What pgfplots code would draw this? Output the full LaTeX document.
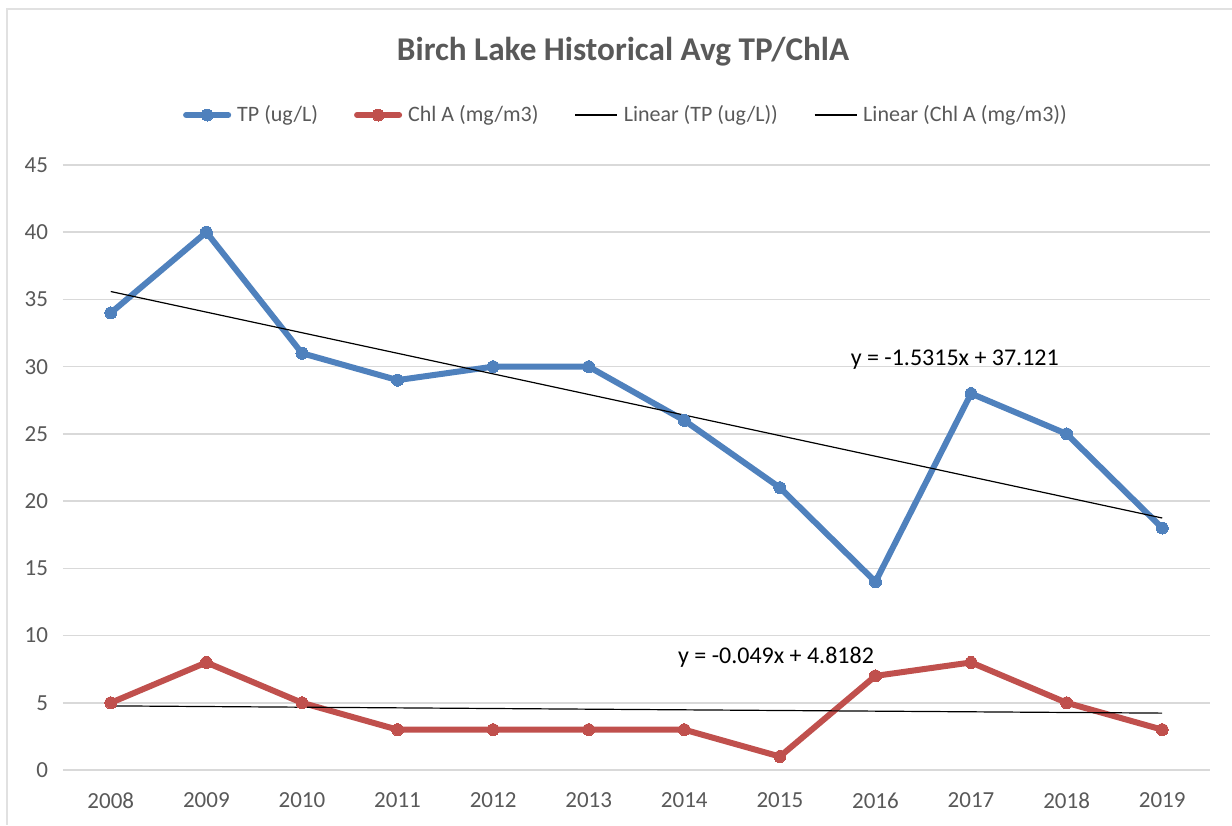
\documentclass[border=0pt]{standalone}
\usepackage{pgfplots}
\pgfplotsset{compat=1.18}
\usepackage{fontspec}
\setmainfont{Carlito}
\definecolor{tpblue}{HTML}{4F81BD}
\definecolor{chlred}{HTML}{C0504D}
\definecolor{gridgray}{HTML}{D9D9D9}
\definecolor{txtgray}{HTML}{595959}
\begin{document}
\begin{tikzpicture}
\path[use as bounding box, fill=white] (-31.5pt,-27.5pt) rectangle (584.5pt,385pt);
\draw[gridgray!80, line width=0.8pt] (-28pt,-27.5pt) -- (-28pt,380.5pt) -- (584.5pt,380.5pt);
\begin{axis}[
  scale only axis,
  width=573.5pt, height=302.5pt,
  xmin=-0.5, xmax=11.5, ymin=0, ymax=45,
  xtick={0,...,11},
  xticklabels={2008,2009,2010,2011,2012,2013,2014,2015,2016,2017,2018,2019},
  ytick={0,5,...,45},
  axis line style={draw=none},
  major tick length=0pt,
  ymajorgrids,
  grid style={gridgray, line width=0.8pt},
  tick label style={font=\fontsize{11.5}{13}\selectfont, text=txtgray},
  /pgf/number format/assume math mode=true,
  yticklabel style={xshift=-4pt},
  xticklabel style={yshift=-8pt},
  legend columns=-1,
  legend style={draw=none, fill=none, font=\fontsize{11}{13}\selectfont, text=txtgray,
    at={(0.4917,1.0)}, anchor=center, yshift=25pt,
    /tikz/every odd column/.append style={column sep=1pt},
    /tikz/every even column/.append style={column sep=16pt},
    inner sep=0pt},
  legend image code/.code={
    \draw[#1, mark repeat=2, mark phase=2] plot coordinates {(0cm,0cm) (0.37cm,0cm) (0.74cm,0cm)};},
  clip=false,
]
\addplot[tpblue, line width=3pt, line join=round, line cap=round, mark=*, mark size=3pt, mark options={fill=tpblue, draw=tpblue, line width=0pt}] coordinates {
 (0,34) (1,40) (2,31) (3,29) (4,30) (5,30) (6,26) (7,21) (8,14) (9,28) (10,25) (11,18)};
\addlegendentry{TP (ug/L)}
\addplot[chlred, line width=3pt, line join=round, line cap=round, mark=*, mark size=3pt, mark options={fill=chlred, draw=chlred, line width=0pt}] coordinates {
 (0,5) (1,8) (2,5) (3,3) (4,3) (5,3) (6,3) (7,1) (8,7) (9,8) (10,5) (11,3)};
\addlegendentry{Chl A (mg/m3)}
\addplot[black, line width=0.6pt] coordinates {(0,35.5895) (11,18.7430)};
\addlegendentry{Linear (TP (ug/L))}
\addplot[black, line width=0.6pt] coordinates {(0,4.7692) (11,4.2302)};
\addlegendentry{Linear (Chl A (mg/m3))}
\node[font=\fontsize{12}{14}\selectfont, text=black] at (axis cs:8.83,30.5) {y = -1.5315x + 37.121};
\node[font=\fontsize{12}{14}\selectfont, text=black] at (axis cs:6.96,8.4) {y = -0.049x + 4.8182};
\node[font=\fontsize{16.6}{19}\selectfont\bfseries, text=txtgray, yshift=56.5pt] at (rel axis cs:0.4883,1) {Birch Lake Historical Avg TP/ChlA};
\end{axis}
\end{tikzpicture}
\end{document}
